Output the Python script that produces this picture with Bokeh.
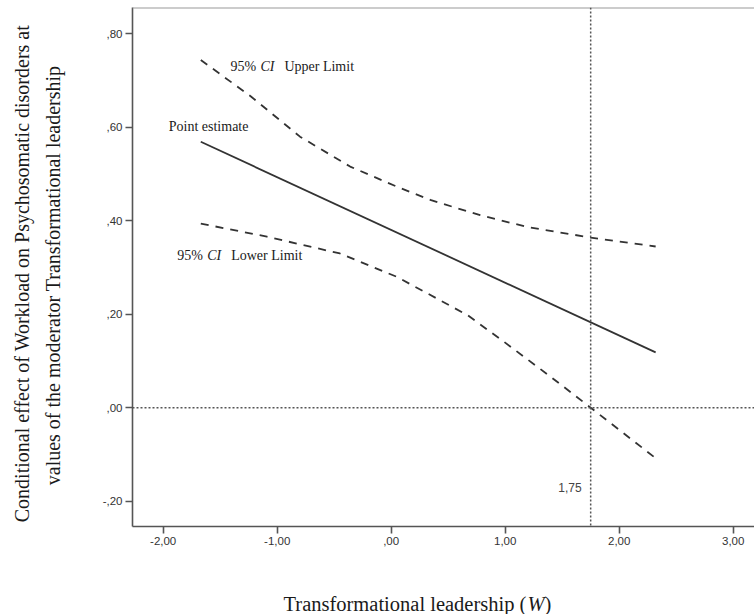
import math
from bokeh.plotting import figure
from bokeh.layouts import column, row
from bokeh.models import Range1d, FixedTicker, Span, Label
from bokeh.embed import file_html
from bokeh.resources import INLINE

# ---- data ----
w_point = [-1.67, 2.32]
eff_point = [0.569, 0.1185]

w_upper = [-1.67, -1.23, -0.80, -0.36, 0.05, 0.35, 0.78, 1.19, 1.75, 2.32]
eff_upper = [0.744, 0.666, 0.580, 0.516, 0.473, 0.444, 0.412, 0.387, 0.364, 0.345]

w_lower = [-1.67, -1.09, -0.45, 0.05, 0.67, 0.99, 1.40, 1.75, 2.32]
eff_lower = [0.394, 0.366, 0.330, 0.280, 0.198, 0.141, 0.066, 0.000, -0.108]

jn_point = 1.75
jn_label = "1,75"

x_ticks = [-2, -1, 0, 1, 2, 3]
x_tick_labels = ["-2,00", "-1,00", ",00", "1,00", "2,00", "3,00"]
y_ticks = [-0.2, 0.0, 0.2, 0.4, 0.6, 0.8]
y_tick_labels = ["-,20", ",00", ",20", ",40", ",60", ",80"]

x_title_parts = ["Transformational leadership (", "W", ")"]
y_title_1 = "Conditional effect of Workload on Psychosomatic disorders at"
y_title_2 = "values of the moderator Transformational leadership"

# label anchors (data units)
upper_pos = (-1.41, 0.731)
lower_pos = (-1.877, 0.326)
point_pos = (-1.951, 0.601)

SERIF = "Liberation Serif"
SANS = "Liberation Sans"
INK = "#333333"
Y_END = 0.8564

# layout sizes (pixels)
W, H = 754, 614
LEFT_W = 92          # side strip holding the y title
MAIN_H = 556         # main plot height
BOT_H = H - MAIN_H   # bottom strip holding the x title

p = figure(width=W - LEFT_W, height=MAIN_H, output_backend="svg",
           toolbar_location=None,
           x_range=Range1d(-2.269, 3.187), y_range=Range1d(-0.2542, Y_END),
           min_border_left=132 - LEFT_W, min_border_right=0, min_border_top=7,
           min_border_bottom=MAIN_H - 526)
p.outline_line_color = None
p.xgrid.visible = False
p.ygrid.visible = False
p.background_fill_color = "white"

for ax, ticks, labels in ((p.xaxis[0], x_ticks, x_tick_labels),
                          (p.yaxis[0], y_ticks, y_tick_labels)):
    ax.ticker = FixedTicker(ticks=ticks)
    ax.major_label_overrides = {t: l for t, l in zip(ticks, labels)}
    ax.minor_tick_line_color = None
    ax.axis_line_color = "#555555"
    ax.axis_line_width = 1.6
    ax.major_tick_line_color = "#555555"
    ax.major_tick_line_width = 1.6
    ax.major_tick_in = 0
    ax.major_tick_out = 7
    ax.major_label_text_font = SANS
    ax.major_label_text_font_size = "11.5px"
    ax.major_label_text_color = INK
    ax.major_label_standoff = 3

# top border
p.add_layout(Span(location=Y_END, dimension="width", line_color="#999999",
                  line_width=2))

# reference lines
p.add_layout(Span(location=0, dimension="width", line_color="#555555",
                  line_width=1.5, line_dash="2 2"))
p.add_layout(Span(location=jn_point, dimension="height", line_color="#555555",
                  line_width=1.5, line_dash="2 2"))

# curves
p.line(w_point, eff_point, line_color=INK, line_width=1.8)
p.line(w_upper, eff_upper, line_color=INK, line_width=1.8, line_dash="8 7")
p.line(w_lower, eff_lower, line_color=INK, line_width=1.8, line_dash="8 7")


def serif_label(fig, x, y, text, dx=0, italic=False, size="14px",
                baseline="middle", align="left", angle=0.0):
    fig.add_layout(Label(x=x, y=y, x_offset=dx, text=text, text_font=SERIF,
                         text_font_size=size, text_color="#1a1a1a",
                         text_baseline=baseline, text_align=align, angle=angle,
                         text_font_style="italic" if italic else "normal"))


for pos, word in ((upper_pos, "Upper Limit"), (lower_pos, "Lower Limit")):
    serif_label(p, pos[0], pos[1], "95%")
    serif_label(p, pos[0], pos[1], "CI", dx=30, italic=True)
    serif_label(p, pos[0], pos[1], word, dx=54)
serif_label(p, point_pos[0], point_pos[1], "Point estimate")

p.add_layout(Label(x=jn_point, y=-0.171, x_offset=-9, text=jn_label,
                   text_font=SANS, text_font_size="12px", text_color="#444444",
                   text_align="right", text_baseline="middle"))


def strip(width, height):
    f = figure(width=width, height=height, output_backend="svg",
               toolbar_location=None, x_axis_type=None, y_axis_type=None,
               x_range=Range1d(0, width), y_range=Range1d(height, 0),
               min_border=0)
    f.outline_line_color = None
    f.xgrid.visible = False
    f.ygrid.visible = False
    return f


# y title strip (pixel coordinates of the strip, y downwards)
pl = strip(LEFT_W, MAIN_H)
serif_label(pl, 21, 285, y_title_1, size="20px", align="center",
            angle=math.pi / 2)
serif_label(pl, 52, 287, y_title_2, size="20px", align="center",
            angle=math.pi / 2)

# x title strip
pb = strip(W, BOT_H)
serif_label(pb, 283, 47, x_title_parts[0], size="20.5px", baseline="alphabetic")
serif_label(pb, 283, 47, x_title_parts[1], dx=244, italic=True, size="20.5px",
            baseline="alphabetic")
serif_label(pb, 283, 47, x_title_parts[2], dx=261, size="20.5px",
            baseline="alphabetic")

layout = column(row(pl, p), pb)
open("out.html", "w").write(file_html(layout, INLINE))
